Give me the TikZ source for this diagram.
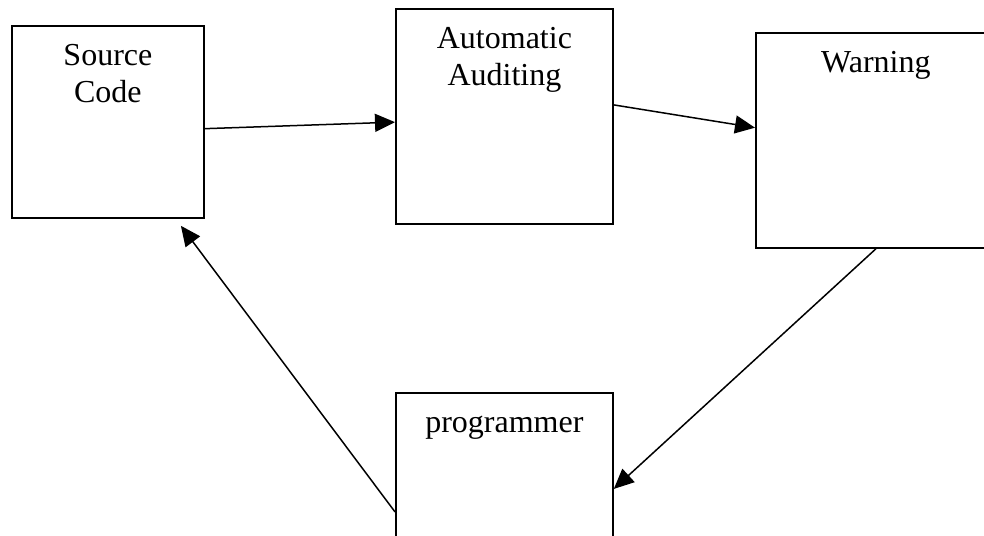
\documentclass[tikz,border=0pt]{standalone}
\usepackage{fontspec}
\setmainfont{Liberation Serif}
\usetikzlibrary{arrows.meta}
\usetikzlibrary{calc}

\begin{document}
\begin{tikzpicture}[
    x=1pt, y=-1pt,
    every node/.style={font=\fontsize{32}{37}\selectfont},
    box/.style={
        draw=black,
        line width=1.8pt,
        anchor=north west,
        align=center,
        inner sep=0pt,
        text height=40pt
    },
    twolines/.style={text height=77pt},
    c/.style={draw=black,line width=1.5pt,-{Triangle[length=20pt,width=18pt]}}
]

\useasboundingbox (0,0) rectangle (984,535);
\clip (0,0) rectangle (984,535);

\node [box,twolines,minimum width=192pt,text depth=115pt] (src)   at ( 11, 25) {Source\\Code};
\node [box,twolines,minimum width=217pt,text depth=138pt] (audit) at (395,  8) {Automatic\\Auditing};
\node [box,minimum width=240pt,text depth=175pt]          (warn)  at (755, 32) {Warning};
\node [box,minimum width=217pt,text depth=175pt]          (prog)  at (395,392) {programmer};

% the audit loop
\path [c] (src.-4.2)    -- (audit.183.4);
\path [c] (audit.6)     -- (warn.174.5);
\path [c] (warn.south)  -- (prog.6.6);
\path [c] (prog.186.6)  -- ($(src.south)+(73,7)$);

\end{tikzpicture}
\end{document}
